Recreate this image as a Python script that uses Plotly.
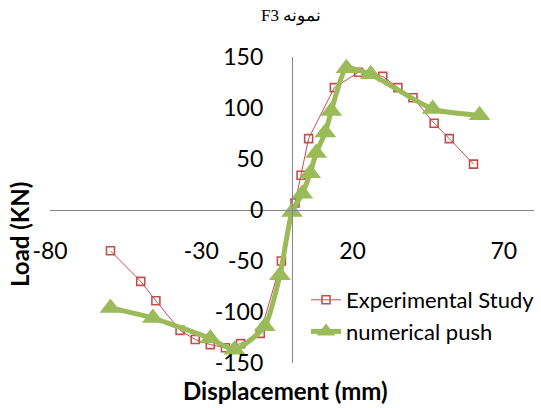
import plotly.graph_objects as go

# Experimental Study (red)
exp_x = [-60, -50, -45, -37, -32, -27, -22, -17, -10.5, -3.5, 1, 3, 5.5, 14, 22, 30, 35, 40, 47, 52, 60]
exp_y = [-40, -70, -89, -118, -127, -132, -135, -131, -121, -50, 7, 34, 70, 120, 135, 131, 120, 110, 85, 70, 45]

# numerical push (green)
num_x = [-60, -46, -27, -19, -9, -4, 0, 3.4, 6, 8, 11, 13, 18, 26, 46.5, 62]
num_y = [-96, -106, -126, -137, -114, -64, -2, 16, 36, 56, 76, 97, 139, 133, 99, 93]

x_ticks = [-80, -30, 20, 70]
x_labels = ["-80", "-30", "20", "70"]
y_ticks = [-150, -100, -50, 0, 50, 100, 150]
y_labels = ["-150", "-100", "-50", "0", "50", "100", "150"]

RED = "#C0504D"
GREEN = "#9BBB59"
AX = "#868686"
FONT = "Lato, Carlito, 'Open Sans', sans-serif"

W, H = 541, 408
ML, MR, MT, MB = 50, 7, 57, 45

fig = go.Figure()
fig.add_trace(go.Scatter(
    x=exp_x, y=exp_y, mode="lines+markers", name="Experimental Study",
    line=dict(color=RED, width=1),
    marker=dict(symbol="square-open", size=8, color=RED, line=dict(width=1.6, color=RED)),
))
fig.add_trace(go.Scatter(
    x=num_x, y=num_y, mode="lines+markers", name="numerical push",
    line=dict(color=GREEN, width=5, shape="spline", smoothing=0.6),
    marker=dict(symbol="triangle-up", size=19, color=GREEN),
))

def px2x(px):
    return (px - ML) / (W - ML - MR)

def py2y(py):
    return (H - MB - py) / (H - MT - MB)

fig.update_layout(
    width=W, height=H,
    margin=dict(l=ML, r=MR, t=MT, b=MB, autoexpand=False),
    paper_bgcolor="white", plot_bgcolor="white",
    font=dict(family=FONT, size=22, color="black"),
    showlegend=True,
    legend=dict(
        x=px2x(306), y=py2y(279), xanchor="left", yanchor="top",
        bgcolor="rgba(0,0,0,0)", font=dict(family=FONT, size=22, color="black"),
        tracegroupgap=0, itemwidth=30,
    ),
    xaxis=dict(
        range=[-80, 80], tickmode="array", tickvals=x_ticks, ticktext=x_labels,
        anchor="free", position=0.5, automargin=False,
        showline=True, linecolor=AX, linewidth=1.3,
        showgrid=False, zeroline=False, ticks="",
        ticklabelstandoff=20,
        tickfont=dict(family=FONT, size=23, color="black"),
    ),
    yaxis=dict(
        range=[-150, 150], tickmode="array", tickvals=y_ticks, ticktext=y_labels,
        anchor="free", position=0.5, automargin=False,
        showline=True, linecolor=AX, linewidth=1.3,
        showgrid=False, zeroline=False, ticks="",
        ticklabelstandoff=24,
        tickfont=dict(family=FONT, size=23, color="black"),
    ),
    annotations=[
        dict(text="\u202bنمونه F3\u202c", xref="paper", yref="paper", x=px2x(291), y=py2y(16),
             showarrow=False, xanchor="center", yanchor="middle",
             font=dict(family="'Liberation Serif', 'DejaVu Serif', serif", size=17, color="black")),
        dict(text="<b>Load (KN)</b>", xref="paper", yref="paper", x=px2x(20), y=py2y(235),
             showarrow=False, xanchor="center", yanchor="middle", textangle=-90,
             font=dict(family=FONT, size=24, color="black")),
        dict(text="<b>Displacement (mm)</b>", xref="paper", yref="paper", x=px2x(285), y=py2y(390),
             showarrow=False, xanchor="center", yanchor="middle",
             font=dict(family=FONT, size=24, color="black")),
    ],
)

fig.write_html("out.html")
